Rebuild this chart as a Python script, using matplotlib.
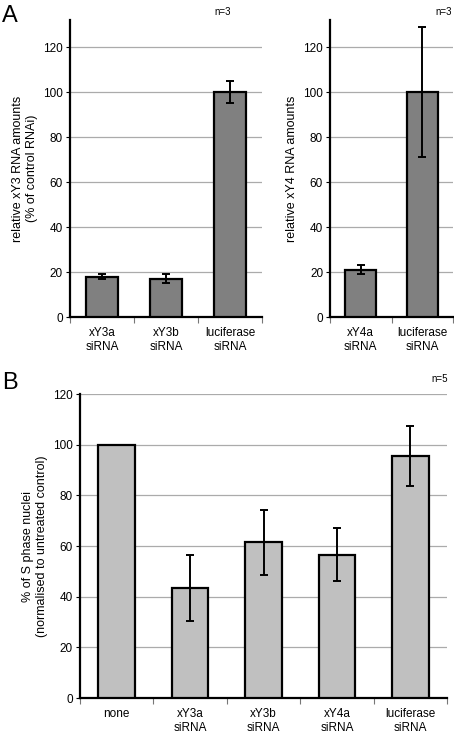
import numpy as np
import matplotlib
matplotlib.use("Agg")
from matplotlib import pyplot as plt

plt.rcParams['font.family'] = ['Liberation Sans Narrow', 'Liberation Sans', 'DejaVu Sans']

# panel A, left: xY3 RNA
a1_labels = ['xY3a\nsiRNA', 'xY3b\nsiRNA', 'luciferase\nsiRNA']
a1_values = [18, 17, 100]
a1_errors = [1, 2, 5]

# panel A, right: xY4 RNA
a2_labels = ['xY4a\nsiRNA', 'luciferase\nsiRNA']
a2_values = [21, 100]
a2_errors = [2, 29]

# panel B: S phase nuclei
b_labels = ['none', 'xY3a\nsiRNA', 'xY3b\nsiRNA', 'xY4a\nsiRNA', 'luciferase\nsiRNA']
b_values = [100, 43.5, 61.5, 56.5, 95.5]
b_errors = [0, 13, 12.8, 10.5, 12]


def bar_panel(ax, labels, values, errors, color, ymax, ylabel):
    """
    # draw one excel-style bar panel
    """
    n = len(labels)
    x = np.arange(n)
    errs = [e if e > 0 else np.nan for e in errors]
    ax.bar(x, values, width=0.5, color=color, edgecolor='black', linewidth=1.6, zorder=3)
    ax.errorbar(x, values, yerr=errs, fmt='none', ecolor='black', elinewidth=1.4,
                capsize=3, capthick=1.4, zorder=4)
    ax.set_xlim(-0.5, n - 0.5)
    ax.set_ylim(0, ymax)
    ax.set_yticks(np.arange(0, 121, 20))
    for v in range(20, 121, 20):
        ax.axhline(v, color='#ababab', linewidth=0.9, zorder=1)
    ax.set_xticks(x)
    ax.set_xticklabels(labels, fontsize=8.5, linespacing=1.3)
    ax.set_xticks(np.arange(-0.5, n, 1.0), minor=True)
    ax.tick_params(axis='x', which='major', length=0, pad=7)
    ax.tick_params(axis='x', which='minor', length=4, width=0.8, color='#777777')
    ax.tick_params(axis='y', length=3, width=0.8, labelsize=8.5, pad=2)
    for s in ['top', 'right']:
        ax.spines[s].set_visible(False)
    ax.spines['left'].set_linewidth(1.6)
    ax.spines['bottom'].set_linewidth(1.6)
    ax.set_ylabel(ylabel, fontsize=9, linespacing=1.2)


def main():
    fig = plt.figure(figsize=(4.54, 7.34), dpi=100)

    ax1 = fig.add_axes([0.1542, 0.5681, 0.4229, 0.4046])
    bar_panel(ax1, a1_labels, a1_values, a1_errors, '#808080', 132,
              'relative xY3 RNA amounts\n(% of control RNAi)')

    ax2 = fig.add_axes([0.7269, 0.5681, 0.2709, 0.4046])
    bar_panel(ax2, a2_labels, a2_values, a2_errors, '#808080', 132,
              'relative xY4 RNA amounts')

    ax3 = fig.add_axes([0.1762, 0.0490, 0.8084, 0.4142])
    bar_panel(ax3, b_labels, b_values, b_errors, '#c0c0c0', 120,
              '% of S phase nuclei\n(normalised to untreated control)')

    fig.text(0.004, 0.978, 'A', fontsize=17, va='center', ha='left', family='Liberation Sans')
    fig.text(0.004, 0.478, 'B', fontsize=17, va='center', ha='left', family='Liberation Sans')
    fig.text(0.473, 0.983, 'n=3', fontsize=7, va='center', ha='left')
    fig.text(0.960, 0.983, 'n=3', fontsize=7, va='center', ha='left')
    fig.text(0.950, 0.483, 'n=5', fontsize=7, va='center', ha='left')

    fig.savefig('out.png', dpi=100)


if __name__ == '__main__':
    main()
